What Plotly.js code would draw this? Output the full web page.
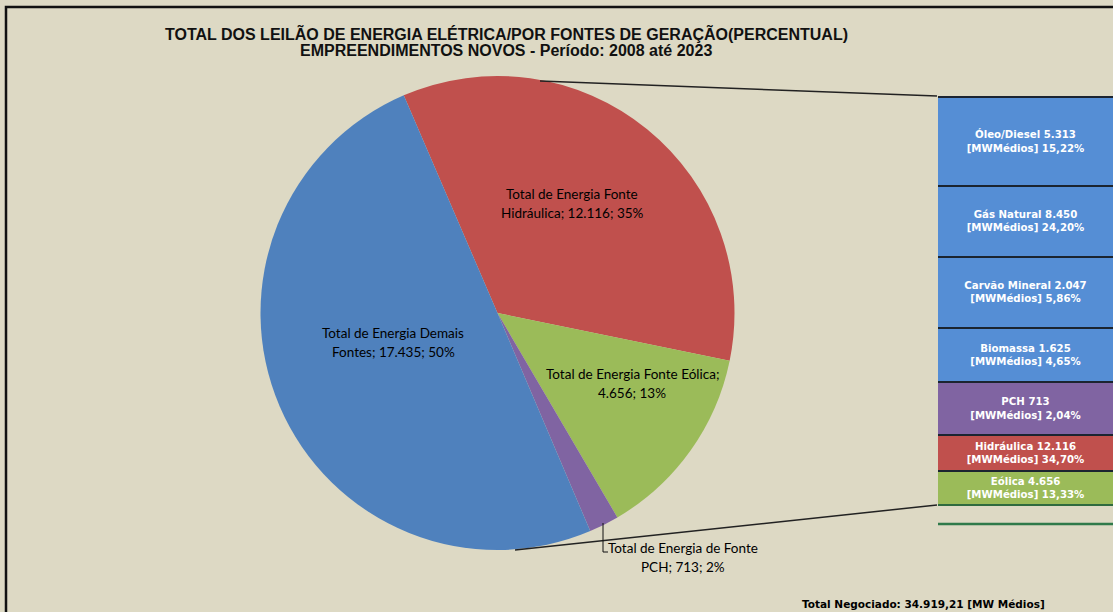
<!DOCTYPE html>
<html>
<head>
<meta charset="utf-8">
<script src="https://cdn.plot.ly/plotly-3.0.1.min.js"></script>
<style>html,body{margin:0;padding:0;background:#DDD9C4;}#chart{width:1113px;height:612px;}</style>
</head>
<body>
<div id="chart"></div>
<script>
// ---------- DATA ----------
const pieNames = ["Total de Energia Fonte Hidráulica", "Total de Energia Fonte Eólica", "Total de Energia de Fonte PCH", "Total de Energia Demais Fontes"];
const pieValues = [12116, 4656, 713, 17435];
const pieBreakAfter = ["Total de Energia Fonte", "Total de Energia Fonte Eólica;", "Total de Energia de Fonte", "Total de Energia Demais"];

const barNames = ["Óleo/Diesel", "Gás Natural", "Carvão Mineral", "Biomassa", "PCH", "Hidráulica", "Eólica"];
const barValues = [5313, 8450, 2047, 1625, 713, 12116, 4656];
const barUnit = "[MWMédios]";
const totalNegociado = 34919.21;
const totalLabel = "Total Negociado: ";
const totalUnit = " [MW Médios]";

const titleLine1 = "TOTAL DOS LEILÃO DE ENERGIA ELÉTRICA/POR FONTES DE GERAÇÃO(PERCENTUAL)";
const titleLine2 = "EMPREENDIMENTOS NOVOS - Período: 2008 até 2023";

// ---------- LAYOUT / STYLE ----------
const W = 1113, H = 612;
const px = x => x / W;
const py = y => 1 - y / H;
const pieColors = ["#C0504D", "#9BBB59", "#8064A2", "#4F81BD"];
const barColors = ["#558ED5", "#558ED5", "#558ED5", "#558ED5", "#8064A2", "#C0504D", "#9BBB59"];
const boxSpan = [89, 71, 71, 54, 53, 36, 34]; // visual box heights of the reference legend column

function fmtInt(n) { return Math.round(n).toString().replace(/\B(?=(\d{3})+(?!\d))/g, "."); }
function fmtDec(n) {
  const parts = n.toFixed(2).split(".");
  return parts[0].replace(/\B(?=(\d{3})+(?!\d))/g, ".") + "," + parts[1];
}
const pieTotal = pieValues.reduce((a, b) => a + b, 0);

const traces = [];
traces.push({
  type: "pie",
  values: pieValues,
  labels: pieNames,
  sort: false,
  direction: "clockwise",
  rotation: -23.3,
  marker: { colors: pieColors, line: { width: 0 } },
  textinfo: "none",
  hoverinfo: "none",
  showlegend: false,
  domain: { x: [px(260.5), px(734.5)], y: [py(550), py(76)] }
});

barNames.forEach((name, i) => {
  const pct = fmtDec(barValues[i] / totalNegociado * 100);
  traces.push({
    type: "bar",
    x: ["col"],
    y: [boxSpan[i]],
    xaxis: "x2", yaxis: "y2",
    width: 1.06,
    marker: { color: barColors[i], line: { color: "#1b2430", width: 2 } },
    text: [name + " " + fmtInt(barValues[i]) + "<br>" + barUnit + " " + pct + "%"],
    textposition: "inside",
    insidetextanchor: "middle",
    textangle: 0,
    textfont: { family: "DejaVu Sans", size: 10.2, color: "#ffffff", weight: "bold" },
    hoverinfo: "none",
    showlegend: false
  });
});

// pie label annotations (two lines each)
const labelPos = [[572, 203], [632, 383], [683, 557], [393, 343]];
const annotations = [];
pieNames.forEach((name, i) => {
  const pct = Math.round(pieValues[i] / pieTotal * 100);
  const full = name + "; " + fmtInt(pieValues[i]) + "; " + pct + "%";
  const l1 = pieBreakAfter[i];
  const l2 = full.slice(l1.length).trim();
  [l1, l2].forEach((t, k) => {
    annotations.push({
      xref: "paper", yref: "paper",
      x: px(labelPos[i][0]), y: py(labelPos[i][1] + (k === 0 ? -9.5 : 9.5)),
      xanchor: "center", yanchor: "middle",
      text: t, showarrow: false,
      font: { family: "Lato", size: 13.5, color: "#000000" }
    });
  });
});
// title lines
[[titleLine1, 33], [titleLine2, 50]].forEach(([t, y]) => {
  annotations.push({
    xref: "paper", yref: "paper", x: px(506), y: py(y), xanchor: "center", yanchor: "middle",
    text: "<b>" + t + "</b>", showarrow: false,
    font: { family: "Liberation Sans", size: 16, color: "#111111" }
  });
});
annotations.push({
  xref: "paper", yref: "paper", x: px(800), y: py(604), xanchor: "left", yanchor: "middle",
  text: totalLabel + fmtDec(totalNegociado) + totalUnit, showarrow: false,
  font: { family: "DejaVu Sans", size: 10.5, color: "#000000", weight: "bold" }
});

const shapes = [
  // frame
  { type: "rect", xref: "paper", yref: "paper", x0: px(6), x1: 1.02, y0: -0.02, y1: py(7), line: { color: "#111111", width: 2.5 }, layer: "above" },
  // series lines pie -> column
  { type: "line", xref: "paper", yref: "paper", x0: px(540), y0: py(81), x1: px(937), y1: py(96), line: { color: "#222222", width: 1.5 } },
  { type: "line", xref: "paper", yref: "paper", x0: px(515), y0: py(550), x1: px(937), y1: py(505), line: { color: "#222222", width: 1.5 } },
  // PCH leader line
  { type: "path", xref: "paper", yref: "paper", path: `M ${px(603)} ${py(523)} L ${px(603)} ${py(552)} L ${px(608)} ${py(552)}`, line: { color: "#111111", width: 1 } },
  // green lines below column
  { type: "line", xref: "paper", yref: "paper", x0: px(938), y0: py(505), x1: 1, y1: py(505), line: { color: "#2f6b3f", width: 2 } },
  { type: "line", xref: "paper", yref: "paper", x0: px(938), y0: py(524), x1: 1, y1: py(524), line: { color: "#2f7a4a", width: 2.5 } }
];

const layout = {
  width: W, height: H,
  paper_bgcolor: "#DDD9C4",
  plot_bgcolor: "rgba(0,0,0,0)",
  margin: { l: 0, r: 0, t: 0, b: 0 },
  showlegend: false,
  barmode: "stack",
  xaxis2: { domain: [px(938), 1], range: [-0.5, 0.5], visible: false, fixedrange: true, anchor: "y2" },
  yaxis2: { domain: [py(505), py(96)], range: [408, -0.5], visible: false, fixedrange: true, anchor: "x2" },
  annotations: annotations,
  shapes: shapes
};

Plotly.newPlot("chart", traces, layout, { displayModeBar: false, staticPlot: true });
</script>
</body>
</html>
